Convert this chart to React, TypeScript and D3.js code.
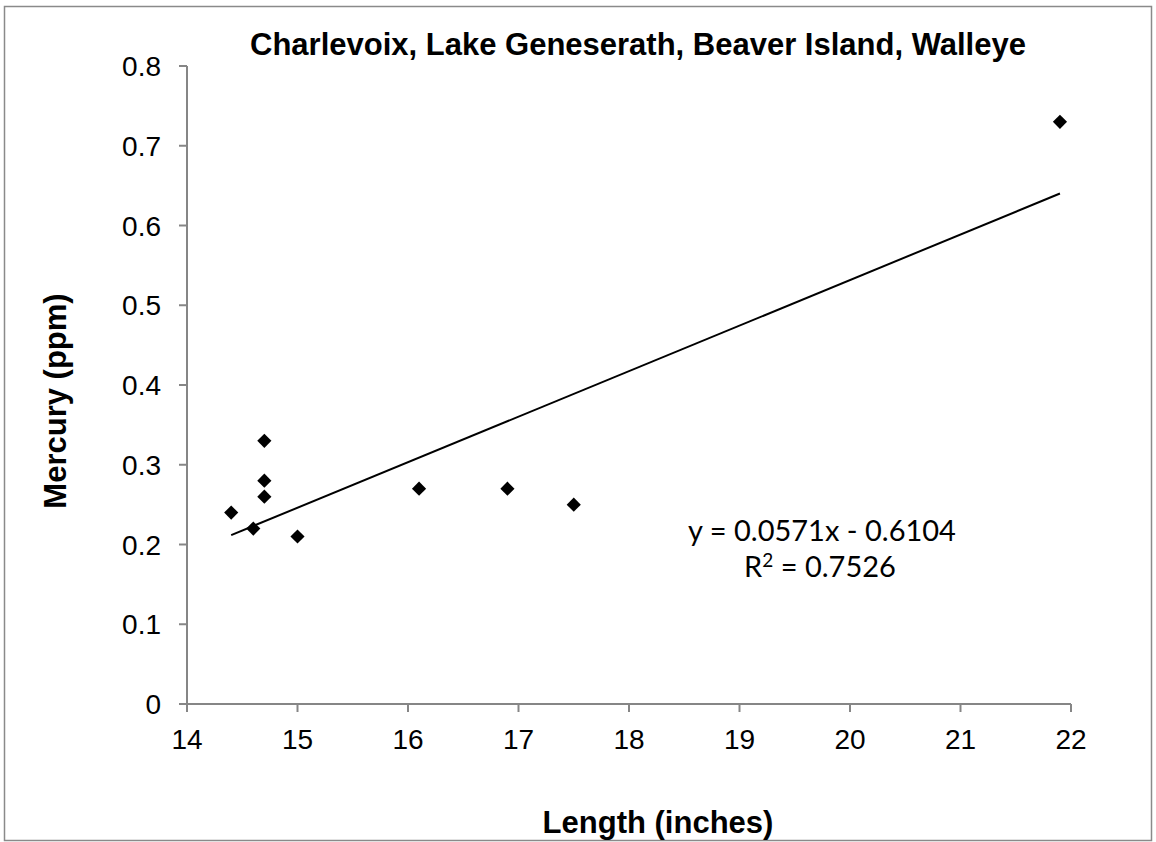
import React from "react";
import * as d3 from "d3";

const lengths = [14.4, 14.6, 14.7, 14.7, 14.7, 15.0, 16.1, 16.9, 17.5, 21.9];
const mercury = [0.24, 0.22, 0.33, 0.28, 0.26, 0.21, 0.27, 0.27, 0.25, 0.73];
const xTicks = [14, 15, 16, 17, 18, 19, 20, 21, 22];
const yTicks = [0, 0.1, 0.2, 0.3, 0.4, 0.5, 0.6, 0.7, 0.8];
const slope = 0.0571;
const intercept = -0.6104;
const title = "Charlevoix, Lake Geneserath, Beaver Island, Walleye";
const xTitle = "Length (inches)";
const yTitle = "Mercury (ppm)";
const eqText = "y = 0.0571x - 0.6104";
const r2Value = "0.7526";

const W = 1156;
const H = 842;
const AXIS = "#868686";

export default function App() {
  const x = d3.scaleLinear().domain([14, 22]).range([187, 1071]);
  const y = d3.scaleLinear().domain([0, 0.8]).range([704, 66]);
  const xMin = d3.min(lengths) as number;
  const xMax = d3.max(lengths) as number;
  const line = d3.line<number>().x((d) => x(d)).y((d) => y(slope * d + intercept));
  const diamond = d3.symbol().type(d3.symbolDiamond2).size(128)();
  const font = "'Liberation Sans', Arial, sans-serif";

  return (
    <svg
      width={W}
      height={H}
      style={{ position: "absolute", left: 0, top: 0, background: "#fff" }}
    >
      <rect x={0} y={0} width={W} height={H} fill="#fff" />
      <rect x={4.5} y={6.5} width={1147} height={834} fill="none" stroke="#8a8a8a" strokeWidth={1.5} />

      {/* y axis */}
      <line x1={x(14)} x2={x(14)} y1={y(0.8)} y2={y(0) + 8} stroke={AXIS} strokeWidth={2} />
      {yTicks.map((t) => (
        <g key={"y" + t}>
          <line x1={x(14) - 8} x2={x(14)} y1={y(t)} y2={y(t)} stroke={AXIS} strokeWidth={2} />
          <text
            x={x(14) - 26}
            y={y(t)}
            dy="0.36em"
            textAnchor="end"
            fontFamily={font}
            fontSize={28}
            fill="#000"
          >
            {t === 0 ? "0" : d3.format(".1f")(t)}
          </text>
        </g>
      ))}

      {/* x axis */}
      <line x1={x(14) - 8} x2={x(22)} y1={y(0)} y2={y(0)} stroke={AXIS} strokeWidth={2} />
      {xTicks.map((t) => (
        <g key={"x" + t}>
          <line x1={x(t)} x2={x(t)} y1={y(0)} y2={y(0) + 8} stroke={AXIS} strokeWidth={2} />
          <text x={x(t)} y={749} textAnchor="middle" fontFamily={font} fontSize={28} fill="#000">
            {t}
          </text>
        </g>
      ))}

      {/* trendline */}
      <path d={line([xMin, xMax]) || ""} fill="none" stroke="#000" strokeWidth={2} />

      {/* points */}
      {lengths.map((l, i) => (
        <path key={"p" + i} d={diamond || ""} transform={`translate(${x(l)},${y(mercury[i])})`} fill="#000" />
      ))}

      {/* equation */}
      <text x={822} y={541} textAnchor="middle" fontFamily="Lato, 'Open Sans', sans-serif" fontSize={29} fill="#000">
        {eqText}
      </text>
      <text x={820} y={577} textAnchor="middle" fontFamily="Lato, 'Open Sans', sans-serif" fontSize={29} fill="#000">
        R<tspan dy="-10" fontSize={19}>2</tspan>
        <tspan dy="10"> = {r2Value}</tspan>
      </text>

      {/* titles */}
      <text x={638} y={55} textAnchor="middle" fontFamily={font} fontWeight="bold" fontSize={31} fill="#000">
        {title}
      </text>
      <text x={658} y={833} textAnchor="middle" fontFamily={font} fontWeight="bold" fontSize={31} fill="#000">
        {xTitle}
      </text>
      <text
        transform={`translate(66,401) rotate(-90)`}
        textAnchor="middle"
        fontFamily={font}
        fontWeight="bold"
        fontSize={31}
        fill="#000"
      >
        {yTitle}
      </text>
    </svg>
  );
}
